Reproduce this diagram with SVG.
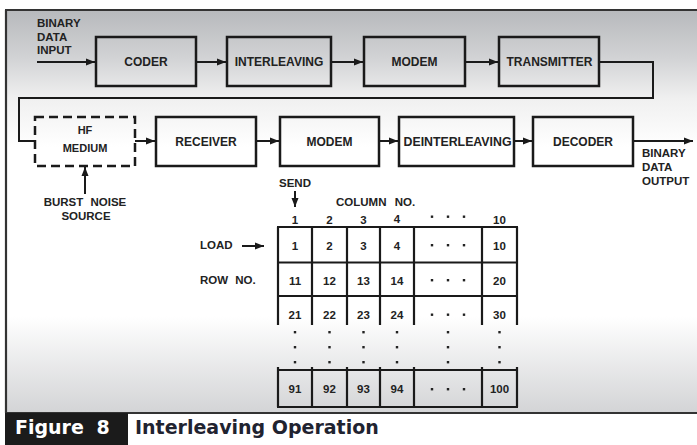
<svg xmlns="http://www.w3.org/2000/svg" width="697" height="445" viewBox="0 0 697 445">
  <defs>
    <linearGradient id="panelShade" gradientUnits="userSpaceOnUse" x1="0" y1="10" x2="0" y2="413">
      <stop offset="0" stop-color="#b7b9bc"/>
      <stop offset="0.12" stop-color="#d2d3d5"/>
      <stop offset="0.22" stop-color="#f0f0f0"/>
      <stop offset="0.34" stop-color="#ffffff"/>
      <stop offset="0.76" stop-color="#ffffff"/>
      <stop offset="1" stop-color="#d3d4d6"/>
    </linearGradient>
    <marker id="arrow" markerUnits="userSpaceOnUse" markerWidth="9" markerHeight="8" refX="9" refY="4" orient="auto">
      <path d="M0,0.5 L9,4 L0,7.5 Z" fill="#1a1a1a"/>
    </marker>
    <style>
      .box { fill: none; stroke: #1a1a1a; stroke-width: 2.5; }
      .dashed { fill: none; stroke: #1a1a1a; stroke-width: 2.5; stroke-dasharray: 9 5; }
      .wire { fill: none; stroke: #1a1a1a; stroke-width: 2; }
      .grid { fill: none; stroke: #1a1a1a; stroke-width: 2.2; }
      .lbl { font-family: "Liberation Sans", Arial, sans-serif; font-weight: bold; font-size: 12px; fill: #222; text-anchor: middle; }
      .small { font-family: "Liberation Sans", Arial, sans-serif; font-weight: bold; font-size: 11.5px; fill: #222; }
      .num { font-family: "Liberation Sans", Arial, sans-serif; font-weight: bold; font-size: 11.5px; fill: #222; text-anchor: middle; }
      .dot { fill: #222; }
      .cap { font-family: "DejaVu Sans", Verdana, sans-serif; font-weight: bold; font-size: 19px; }
    </style>
  </defs>

  <!-- page and shaded panel -->
  <rect x="0" y="0" width="697" height="445" fill="#ffffff"/>
  <rect x="5" y="10" width="692" height="403" fill="url(#panelShade)"/>
  <g id="frame" stroke="#333" stroke-width="2.2" fill="none">
    <line x1="5" y1="10" x2="697" y2="10"/>
    <line x1="6" y1="10" x2="6" y2="413"/>
    <line x1="5" y1="413" x2="697" y2="413"/>
  </g>

  <!-- connectors -->
  <g id="connectors" class="wire">
    <line x1="37" y1="62" x2="95" y2="62" marker-end="url(#arrow)"/>
    <line x1="196" y1="62" x2="226" y2="62" marker-end="url(#arrow)"/>
    <line x1="331" y1="62" x2="363" y2="62" marker-end="url(#arrow)"/>
    <line x1="465" y1="62" x2="498" y2="62" marker-end="url(#arrow)"/>
    <polyline points="599,62 653,62 653,98 19,98 19,141 35,141"/>
    <line x1="135" y1="141" x2="155" y2="141" marker-end="url(#arrow)"/>
    <line x1="256" y1="141" x2="279" y2="141" marker-end="url(#arrow)"/>
    <line x1="379" y1="141" x2="398" y2="141" marker-end="url(#arrow)"/>
    <line x1="514" y1="141" x2="532" y2="141" marker-end="url(#arrow)"/>
    <line x1="633" y1="141" x2="693" y2="141" marker-end="url(#arrow)"/>
    <line x1="85" y1="194" x2="85" y2="167" marker-end="url(#arrow)"/>
    <line x1="295" y1="191" x2="295" y2="207" marker-end="url(#arrow)"/>
    <line x1="242" y1="246" x2="264" y2="246" marker-end="url(#arrow)"/>
  </g>

  <!-- transmit chain -->
  <g id="input-label">
    <text class="small" x="37" y="27">BINARY</text>
    <text class="small" x="37" y="40.5">DATA</text>
    <text class="small" x="37" y="54">INPUT</text>
  </g>
  <g id="coder">
    <rect class="box" x="96" y="37" width="100" height="49"/>
    <text class="lbl" x="146" y="66">CODER</text>
  </g>
  <g id="interleaving">
    <rect class="box" x="227" y="37" width="104" height="49"/>
    <text class="lbl" x="279" y="66">INTERLEAVING</text>
  </g>
  <g id="modem-tx">
    <rect class="box" x="364" y="37" width="101" height="49"/>
    <text class="lbl" x="414.5" y="66">MODEM</text>
  </g>
  <g id="transmitter">
    <rect class="box" x="499" y="37" width="100" height="49"/>
    <text class="lbl" x="549.5" y="66">TRANSMITTER</text>
  </g>

  <!-- receive chain -->
  <g id="hf-medium">
    <rect class="dashed" x="35" y="117" width="100" height="49"/>
    <text class="lbl" x="85" y="134" style="font-size:11px">HF</text>
    <text class="lbl" x="85" y="151.5" style="font-size:11px">MEDIUM</text>
  </g>
  <g id="burst-noise-source">
    <text class="lbl" x="85" y="206" style="font-size:11.5px; word-spacing:4px">BURST NOISE</text>
    <text class="lbl" x="86" y="220" style="font-size:11.5px">SOURCE</text>
  </g>
  <g id="receiver">
    <rect class="box" x="156" y="117" width="100" height="49"/>
    <text class="lbl" x="206" y="146">RECEIVER</text>
  </g>
  <g id="modem-rx">
    <rect class="box" x="280" y="117" width="99" height="49"/>
    <text class="lbl" x="329.5" y="146">MODEM</text>
  </g>
  <g id="deinterleaving">
    <rect class="box" x="399" y="117" width="115" height="49"/>
    <text class="lbl" x="457.5" y="146" textLength="108" lengthAdjust="spacingAndGlyphs">DEINTERLEAVING</text>
  </g>
  <g id="decoder">
    <rect class="box" x="533" y="117" width="100" height="49"/>
    <text class="lbl" x="583" y="146">DECODER</text>
  </g>
  <g id="output-label">
    <text class="small" x="642" y="157">BINARY</text>
    <text class="small" x="642" y="171">DATA</text>
    <text class="small" x="642" y="185">OUTPUT</text>
  </g>

  <!-- interleaver matrix -->
  <g id="matrix-labels">
    <text class="small" x="279" y="187">SEND</text>
    <text class="small" x="336" y="206" style="word-spacing:5px">COLUMN NO.</text>
    <text class="small" x="200" y="249">LOAD</text>
    <text class="small" x="200" y="284" style="word-spacing:4px">ROW NO.</text>
  </g>
  <g id="interleaver-matrix">
    <g class="grid">
      <line x1="277" y1="227" x2="518" y2="227"/>
      <line x1="277" y1="262.5" x2="518" y2="262.5"/>
      <line x1="277" y1="296" x2="518" y2="296"/>
      <line x1="277" y1="370" x2="518" y2="370"/>
      <line x1="277" y1="407" x2="518" y2="407"/>
      <path d="M278,227 V325 M312,227 V325 M347,227 V325 M380,227 V325 M414,227 V325 M482,227 V325 M517,227 V325"/>
      <path d="M278,367 V407 M312,367 V407 M347,367 V407 M380,367 V407 M414,367 V407 M482,367 V407 M517,367 V407"/>
    </g>
    <g class="num">
      <text x="295" y="224">1</text>
      <text x="329.5" y="224">2</text>
      <text x="363.5" y="224">3</text>
      <text x="397" y="222.5">4</text>
      <text x="499.5" y="224">10</text>

      <text x="295" y="250">1</text>
      <text x="329.5" y="250">2</text>
      <text x="363.5" y="250">3</text>
      <text x="397" y="250">4</text>
      <text x="499.5" y="250">10</text>

      <text x="295" y="285">11</text>
      <text x="329.5" y="285">12</text>
      <text x="363.5" y="285">13</text>
      <text x="397" y="285">14</text>
      <text x="499.5" y="285">20</text>

      <text x="295" y="319">21</text>
      <text x="329.5" y="319">22</text>
      <text x="363.5" y="319">23</text>
      <text x="397" y="319">24</text>
      <text x="499.5" y="319">30</text>

      <text x="295" y="393">91</text>
      <text x="329.5" y="393">92</text>
      <text x="363.5" y="393">93</text>
      <text x="397" y="393">94</text>
      <text x="499.5" y="393">100</text>
    </g>
    <g class="dot">
      <!-- horizontal ellipses -->
      <rect x="430.8" y="215.5" width="2.4" height="2.4"/>
      <rect x="446.8" y="215.5" width="2.4" height="2.4"/>
      <rect x="462.8" y="215.5" width="2.4" height="2.4"/>
      <rect x="430.8" y="244" width="2.4" height="2.4"/>
      <rect x="446.8" y="244" width="2.4" height="2.4"/>
      <rect x="462.8" y="244" width="2.4" height="2.4"/>
      <rect x="430.8" y="279" width="2.4" height="2.4"/>
      <rect x="446.8" y="279" width="2.4" height="2.4"/>
      <rect x="462.8" y="279" width="2.4" height="2.4"/>
      <rect x="430.8" y="313.5" width="2.4" height="2.4"/>
      <rect x="446.8" y="313.5" width="2.4" height="2.4"/>
      <rect x="462.8" y="313.5" width="2.4" height="2.4"/>
      <rect x="430.8" y="388" width="2.4" height="2.4"/>
      <rect x="446.8" y="388" width="2.4" height="2.4"/>
      <rect x="462.8" y="388" width="2.4" height="2.4"/>
      <!-- vertical ellipses -->
      <rect x="293.8" y="331" width="2.4" height="2.4"/>
      <rect x="293.8" y="346" width="2.4" height="2.4"/>
      <rect x="293.8" y="361" width="2.4" height="2.4"/>
      <rect x="328.3" y="331" width="2.4" height="2.4"/>
      <rect x="328.3" y="346" width="2.4" height="2.4"/>
      <rect x="328.3" y="361" width="2.4" height="2.4"/>
      <rect x="362.3" y="331" width="2.4" height="2.4"/>
      <rect x="362.3" y="346" width="2.4" height="2.4"/>
      <rect x="362.3" y="361" width="2.4" height="2.4"/>
      <rect x="395.8" y="331" width="2.4" height="2.4"/>
      <rect x="395.8" y="346" width="2.4" height="2.4"/>
      <rect x="395.8" y="361" width="2.4" height="2.4"/>
      <rect x="446.8" y="331" width="2.4" height="2.4"/>
      <rect x="446.8" y="346" width="2.4" height="2.4"/>
      <rect x="446.8" y="361" width="2.4" height="2.4"/>
      <rect x="498.3" y="331" width="2.4" height="2.4"/>
      <rect x="498.3" y="346" width="2.4" height="2.4"/>
      <rect x="498.3" y="361" width="2.4" height="2.4"/>
    </g>
  </g>

  <!-- caption -->
  <g id="caption">
    <rect x="5" y="413" width="123" height="32" fill="#1b1b1b"/>
    <text class="cap" x="15" y="434" fill="#ffffff" style="word-spacing:6px">Figure 8</text>
    <text class="cap" x="135" y="434" fill="#1f2330">Interleaving Operation</text>
  </g>
</svg>
